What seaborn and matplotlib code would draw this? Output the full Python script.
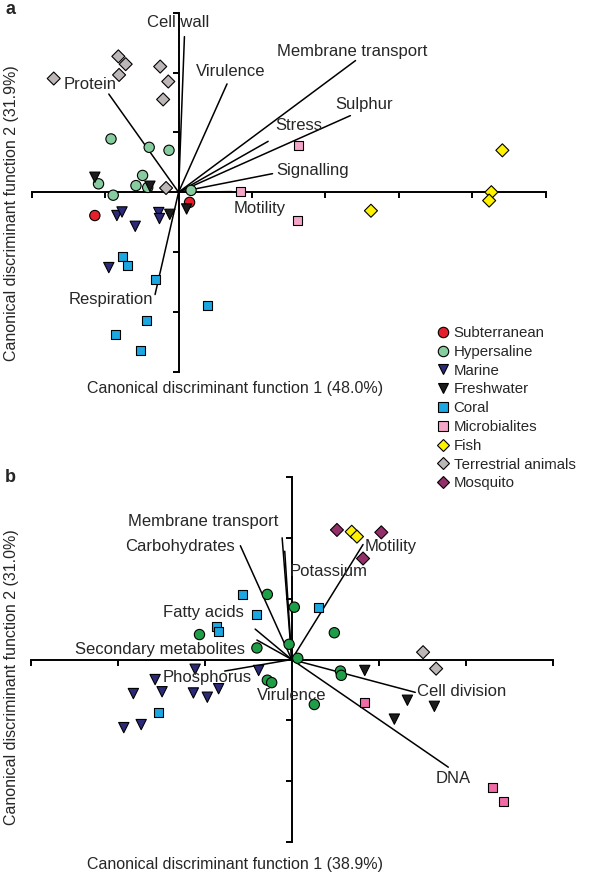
import numpy as np
import pandas as pd
import matplotlib
matplotlib.use("Agg")
import matplotlib.pyplot as plt
from matplotlib.lines import Line2D
import seaborn as sns

sns.set_style("white")
plt.rcParams['font.family'] = ['Liberation Sans', 'DejaVu Sans']

# ---- Panel a: sample scores (canonical discriminant functions 1 and 2) ----
a_subterranean_x = [-1.14, 0.15]
a_subterranean_y = [-0.39, -0.17]
a_hypersaline_x = [-0.92, -0.40, -0.13, -0.49, -1.09, -0.58, -0.42, -0.89, 0.17]
a_hypersaline_y = [0.89, 0.75, 0.70, 0.28, 0.14, 0.11, 0.08, -0.05, 0.03]
a_marine_x = [-0.84, -0.77, -0.59, -0.27, -0.26, -0.95]
a_marine_y = [-0.39, -0.33, -0.57, -0.34, -0.44, -1.26]
a_freshwater_x = [-1.14, -0.39, -0.12, 0.11]
a_freshwater_y = [0.25, 0.10, -0.37, -0.28]
a_coral_x = [-0.77, -0.70, -0.32, 0.39, -0.44, -0.86, -0.52]
a_coral_y = [-1.07, -1.23, -1.46, -1.89, -2.15, -2.37, -2.64]
a_microbialites_x = [1.64, 0.84, 1.62]
a_microbialites_y = [0.78, 0.01, -0.48]
a_fish_x = [4.41, 2.62, 4.26, 4.23]
a_fish_y = [0.70, -0.31, 0.00, -0.14]
a_terrestrial_x = [-0.82, -0.72, -0.81, -1.70, -0.25, -0.14, -0.21, -0.17]
a_terrestrial_y = [2.27, 2.14, 1.96, 1.90, 2.10, 1.85, 1.55, 0.07]

# loadings (vector end points) for panel a
a_vec_names = ["Cell wall", "Protein", "Virulence", "Membrane transport",
               "Sulphur", "Stress", "Signalling", "Motility", "Respiration"]
a_vec_x = [0.08, -0.95, 0.66, 2.41, 2.34, 1.22, 1.28, 0.73, -0.32]
a_vec_y = [2.60, 1.64, 1.81, 2.20, 1.28, 0.85, 0.31, 0.01, -1.71]
# where each vector label sits (left edge, vertical centre)
a_lab_pos = [(-0.43, 2.83), (-1.57, 1.80), (0.23, 2.01), (1.34, 2.35),
             (2.14, 1.46), (1.32, 1.11), (1.33, 0.36), (0.75, -0.28),
             (-1.50, -1.79)]

# ---- Panel b ----
b_hypersaline_x = [-0.28, 0.03, -1.06, -0.40, -0.03, 0.07, -0.28, -0.23,
                   0.26, 0.49, 0.56, 0.57]
b_hypersaline_y = [1.07, 0.86, 0.41, 0.19, 0.25, 0.02, -0.34, -0.38,
                   -0.74, 0.44, -0.19, -0.26]
b_marine_x = [-1.11, -1.57, -0.38, -1.82, -1.49, -1.13, -0.97, -0.84, -1.93, -1.73]
b_marine_y = [-0.16, -0.33, -0.18, -0.56, -0.53, -0.55, -0.62, -0.48, -1.12, -1.07]
b_freshwater_x = [0.84, 1.33, 1.64, 1.18]
b_freshwater_y = [-0.18, -0.67, -0.77, -0.98]
b_coral_x = [-0.56, -0.41, -0.86, -0.84, -1.53, 0.31]
b_coral_y = [1.07, 0.74, 0.55, 0.46, -0.87, 0.86]
b_microbialites_x = [0.84, 2.31, 2.44]
b_microbialites_y = [-0.71, -2.11, -2.33]
b_fish_x = [0.69, 0.75]
b_fish_y = [2.10, 2.02]
b_terrestrial_x = [1.51, 1.66]
b_terrestrial_y = [0.12, -0.15]
b_mosquito_x = [0.52, 1.03, 0.82]
b_mosquito_y = [2.13, 2.09, 1.66]

b_vec_names = ["Membrane transport", "Carbohydrates", "Potassium", "Fatty acids",
               "Secondary metabolites", "Phosphorus", "Motility",
               "Cell division", "DNA"]
b_vec_x = [-0.11, -0.59, -0.08, -0.42, -0.40, -0.77, 0.82, 1.42, 1.80]
b_vec_y = [2.00, 1.87, 1.78, 0.50, 0.32, -0.19, 1.89, -0.54, -1.77]
b_lab_pos = [(-1.88, 2.27), (-1.92, 1.86), (-0.02, 1.44), (-1.48, 0.77),
             (-2.49, 0.16), (-1.48, -0.30), (0.84, 1.86), (1.44, -0.52),
             (1.66, -1.96)]
b_extra_label = ("Virulence", (-0.40, -0.59))

groups = ["Subterranean", "Hypersaline", "Marine", "Freshwater", "Coral",
          "Microbialites", "Fish", "Terrestrial animals", "Mosquito"]

pal_a = {"Subterranean": "#e5202b", "Hypersaline": "#86cc9f", "Marine": "#2c2a78",
         "Freshwater": "#1c1c1c", "Coral": "#1ba7e1", "Microbialites": "#f3a6c9",
         "Fish": "#fff200", "Terrestrial animals": "#bdb6b6", "Mosquito": "#93306a"}
pal_b = dict(pal_a, Hypersaline="#1f9e48", Microbialites="#ef6ca8")
markers = {"Subterranean": "o", "Hypersaline": "o", "Marine": "v", "Freshwater": "v",
           "Coral": "s", "Microbialites": "s", "Fish": "D",
           "Terrestrial animals": "D", "Mosquito": "D"}
sizes = {"Subterranean": 55, "Hypersaline": 55, "Marine": 55, "Freshwater": 55,
         "Coral": 42, "Microbialites": 42, "Fish": 44,
         "Terrestrial animals": 44, "Mosquito": 44}


def make_df(parts):
    rows = []
    for name, xs, ys in parts:
        for x, y in zip(xs, ys):
            rows.append((name, x, y))
    return pd.DataFrame(rows, columns=["group", "x", "y"])


df_a = make_df([
    ("Terrestrial animals", a_terrestrial_x, a_terrestrial_y),
    ("Hypersaline", a_hypersaline_x, a_hypersaline_y),
    ("Subterranean", a_subterranean_x, a_subterranean_y),
    ("Marine", a_marine_x, a_marine_y),
    ("Freshwater", a_freshwater_x, a_freshwater_y),
    ("Coral", a_coral_x, a_coral_y),
    ("Microbialites", a_microbialites_x, a_microbialites_y),
    ("Fish", a_fish_x, a_fish_y),
])
df_b = make_df([
    ("Hypersaline", b_hypersaline_x, b_hypersaline_y),
    ("Marine", b_marine_x, b_marine_y),
    ("Freshwater", b_freshwater_x, b_freshwater_y),
    ("Coral", b_coral_x, b_coral_y),
    ("Microbialites", b_microbialites_x, b_microbialites_y),
    ("Fish", b_fish_x, b_fish_y),
    ("Terrestrial animals", b_terrestrial_x, b_terrestrial_y),
    ("Mosquito", b_mosquito_x, b_mosquito_y),
])

W, H = 600, 885
fig = plt.figure(figsize=(W / 100, H / 100), dpi=100)
ax_a = fig.add_axes([31.7 / W, 1 - 371.7 / H, 514 / W, 359 / H])
ax_b = fig.add_axes([30.7 / W, 1 - 842 / H, 522 / W, 365 / H])


def setup_axes(ax, xlim, ylim):
    ax.set_xlim(*xlim)
    ax.set_ylim(*ylim)
    for s in ["top", "right"]:
        ax.spines[s].set_visible(False)
    for s in ["left", "bottom"]:
        ax.spines[s].set_position(("data", 0))
        ax.spines[s].set_linewidth(1.4)
        ax.spines[s].set_color("black")
    ax.set_xticks([v for v in range(xlim[0], xlim[1] + 1) if v != 0])
    ax.set_yticks([v for v in range(ylim[0], ylim[1] + 1) if v != 0])
    ax.set_xticklabels([])
    ax.set_yticklabels([])
    ax.tick_params(direction="out", length=4.5, width=1.4, color="black",
                   bottom=True, left=True)
    ax.set_xlabel("")
    ax.set_ylabel("")
    ax.patch.set_alpha(0)


def draw_panel(ax, df, pal, vx, vy, names, lab_pos):
    for x, y in zip(vx, vy):
        ax.plot([0, x], [0, y], color="black", lw=1.1, zorder=2)
    for name, (tx, ty) in zip(names, lab_pos):
        ax.text(tx, ty, name, fontsize=12, ha="left", va="center", zorder=4)
    sns.scatterplot(data=df, x="x", y="y", hue="group", style="group",
                    size="group", palette=pal, markers=markers, sizes=sizes,
                    edgecolor="black", linewidth=0.8, legend=False, ax=ax,
                    zorder=3, clip_on=False)


draw_panel(ax_a, df_a, pal_a, a_vec_x, a_vec_y, a_vec_names, a_lab_pos)
setup_axes(ax_a, (-2, 5), (-3, 3))

draw_panel(ax_b, df_b, pal_b, b_vec_x, b_vec_y, b_vec_names, b_lab_pos)
ax_b.text(*b_extra_label[1], b_extra_label[0], fontsize=12, ha="left",
          va="center", zorder=4)
setup_axes(ax_b, (-3, 3), (-3, 3))

# axis titles and panel letters
fig.text(87 / W, 1 - 388 / H, "Canonical discriminant function 1 (48.0%)",
         fontsize=11.5, ha="left", va="center")
fig.text(12 / W, 1 - 213 / H, "Canonical discriminant function 2 (31.9%)",
         fontsize=11.5, rotation=90, ha="center", va="center")
fig.text(87 / W, 1 - 865 / H, "Canonical discriminant function 1 (38.9%)",
         fontsize=11.5, ha="left", va="center")
fig.text(12 / W, 1 - 677 / H, "Canonical discriminant function 2 (31.0%)",
         fontsize=11.5, rotation=90, ha="center", va="center")
fig.text(5 / W, 1 - 10 / H, "a", fontsize=13, fontweight="bold", ha="left", va="center")
fig.text(5 / W, 1 - 477 / H, "b", fontsize=13, fontweight="bold", ha="left", va="center")

# legend
handles = []
for g in groups:
    msize = {"o": 7.5, "v": 7.5, "s": 6.5, "D": 6.6}[markers[g]]
    handles.append(Line2D([], [], linestyle="none", marker=markers[g],
                          markerfacecolor=pal_a[g], markeredgecolor="black",
                          markeredgewidth=0.8, markersize=msize, label=g))
fig.legend(handles=handles, loc="upper left",
           bbox_to_anchor=(437 / W, 1 - 326 / H), frameon=False,
           fontsize=10.8, handlelength=0.8, handletextpad=0.3,
           labelspacing=0.32, borderpad=0, borderaxespad=0)

fig.savefig("out.png", dpi=100)
